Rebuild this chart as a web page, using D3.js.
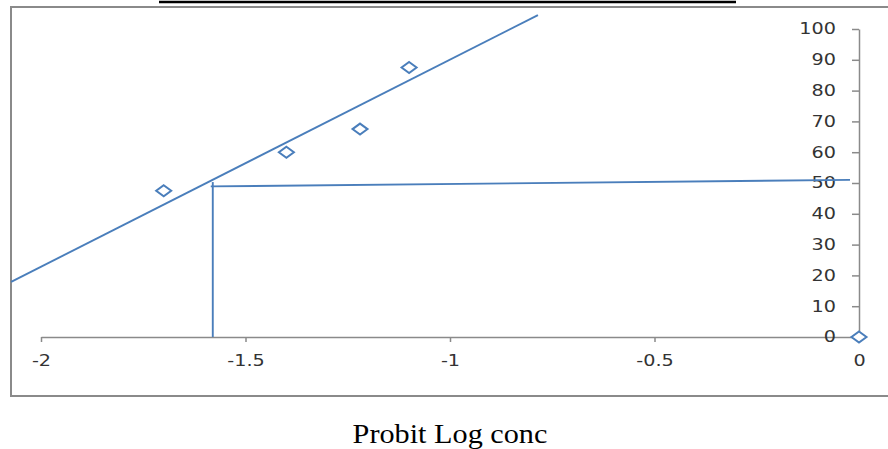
<!DOCTYPE html>
<html>

<head>
	<script src="https://d3js.org/d3.v7.min.js"></script>

	<title> Probit Log conc </title>

	<style>
		html,
		body {
			margin: 0;
			padding: 0;
			background: white;
		}

		svg {
			display: block;
		}

		.tick text {
			font-family: "DejaVu Sans", sans-serif;
			font-size: 15px;
			fill: #333;
			transform-box: fill-box;
		}

		.xaxis .tick text {
			transform-origin: center;
			transform: scaleX(1.28);
		}

		.yaxis .tick text {
			transform-origin: right center;
			transform: scaleX(1.28);
		}
	</style>
</head>

<body>
	<svg width="888" height="449"></svg>

	<script>
		// observed points (log conc, probit %)
		const logConc = [-1.7, -1.4, -1.22, -1.1, 0];
		const response = [47.5, 60, 67.5, 87.5, 0];

		// hand-drawn trend line and the LC50 read-off lines
		const trendX = [-2.073, -0.785];
		const trendY = [17.9, 104.5];
		const readX = [-1.58, -1.58];
		const readY = [0, 50.3];
		const levelX = [-1.585, -0.022];
		const levelY = [48.9, 51.0];

		const xTicks = [-2, -1.5, -1, -0.5, 0];
		const yTicks = [0, 10, 20, 30, 40, 50, 60, 70, 80, 90, 100];

		const blue = "#4a7ebb";
		const axisGrey = "#8a8a8a";

		const svg = d3.select("svg");

		const x = d3.scaleLinear().domain([-2, 0]).range([41, 859]);
		const y = d3.scaleLinear().domain([0, 100]).range([337, 29]);

		// black rule at the very top (cut-off element above the chart)
		svg.append("line")
			.attr("x1", 159).attr("x2", 736)
			.attr("y1", 2).attr("y2", 2)
			.attr("stroke", "black")
			.attr("stroke-width", 2.5);

		// chart frame
		svg.append("rect")
			.attr("x", 11).attr("y", 7)
			.attr("width", 900).attr("height", 389)
			.attr("fill", "white")
			.attr("stroke", axisGrey)
			.attr("stroke-width", 2);

		// x axis
		const xAxis = svg.append("g")
			.attr("class", "xaxis")
			.attr("transform", "translate(0," + y(0) + ")")
			.call(d3.axisBottom(x).tickValues(xTicks).tickSize(5).tickPadding(13)
				.tickSizeOuter(0)
				.tickFormat(d => d === 0 ? "0" : String(d).replace("−", "-")));
		xAxis.select(".domain").attr("stroke", axisGrey).attr("stroke-width", 1.5);
		xAxis.selectAll(".tick line").attr("stroke", axisGrey).attr("stroke-width", 1.5);

		// y axis
		const yAxis = svg.append("g")
			.attr("class", "yaxis")
			.attr("transform", "translate(" + x(0) + ",0)")
			.call(d3.axisLeft(y).tickValues(yTicks).tickSize(7).tickPadding(16).tickSizeOuter(0));
		yAxis.select(".domain").attr("stroke", axisGrey).attr("stroke-width", 1.5);
		yAxis.selectAll(".tick line").attr("stroke", axisGrey).attr("stroke-width", 1.5);

		const line = d3.line()
			.x(d => x(d[0]))
			.y(d => y(d[1]));

		const lines = [
			d3.zip(trendX, trendY),
			d3.zip(readX, readY),
			d3.zip(levelX, levelY)
		];

		svg.selectAll(".guide")
			.data(lines)
			.enter()
			.append("path")
			.attr("class", "guide")
			.attr("d", line)
			.attr("fill", "none")
			.attr("stroke", blue)
			.attr("stroke-width", 1.9);

		// diamond markers
		const pts = d3.zip(logConc, response);
		svg.selectAll(".pt")
			.data(pts)
			.enter()
			.append("path")
			.attr("class", "pt")
			.attr("d", "M0,-5.5L7.5,0L0,5.5L-7.5,0Z")
			.attr("transform", d => "translate(" + x(d[0]) + "," + y(d[1]) + ")")
			.attr("fill", "white")
			.attr("stroke", blue)
			.attr("stroke-width", 2);

		// caption below the chart
		svg.append("text")
			.attr("x", 450)
			.attr("y", 443)
			.attr("text-anchor", "middle")
			.style("font-family", "'Liberation Serif', 'Times New Roman', serif")
			.style("font-size", "27px")
			.style("transform-box", "fill-box")
			.style("transform-origin", "center")
			.style("transform", "scaleX(1.12)")
			.attr("fill", "black")
			.text("Probit Log conc");
	</script>

</body>

</html>
